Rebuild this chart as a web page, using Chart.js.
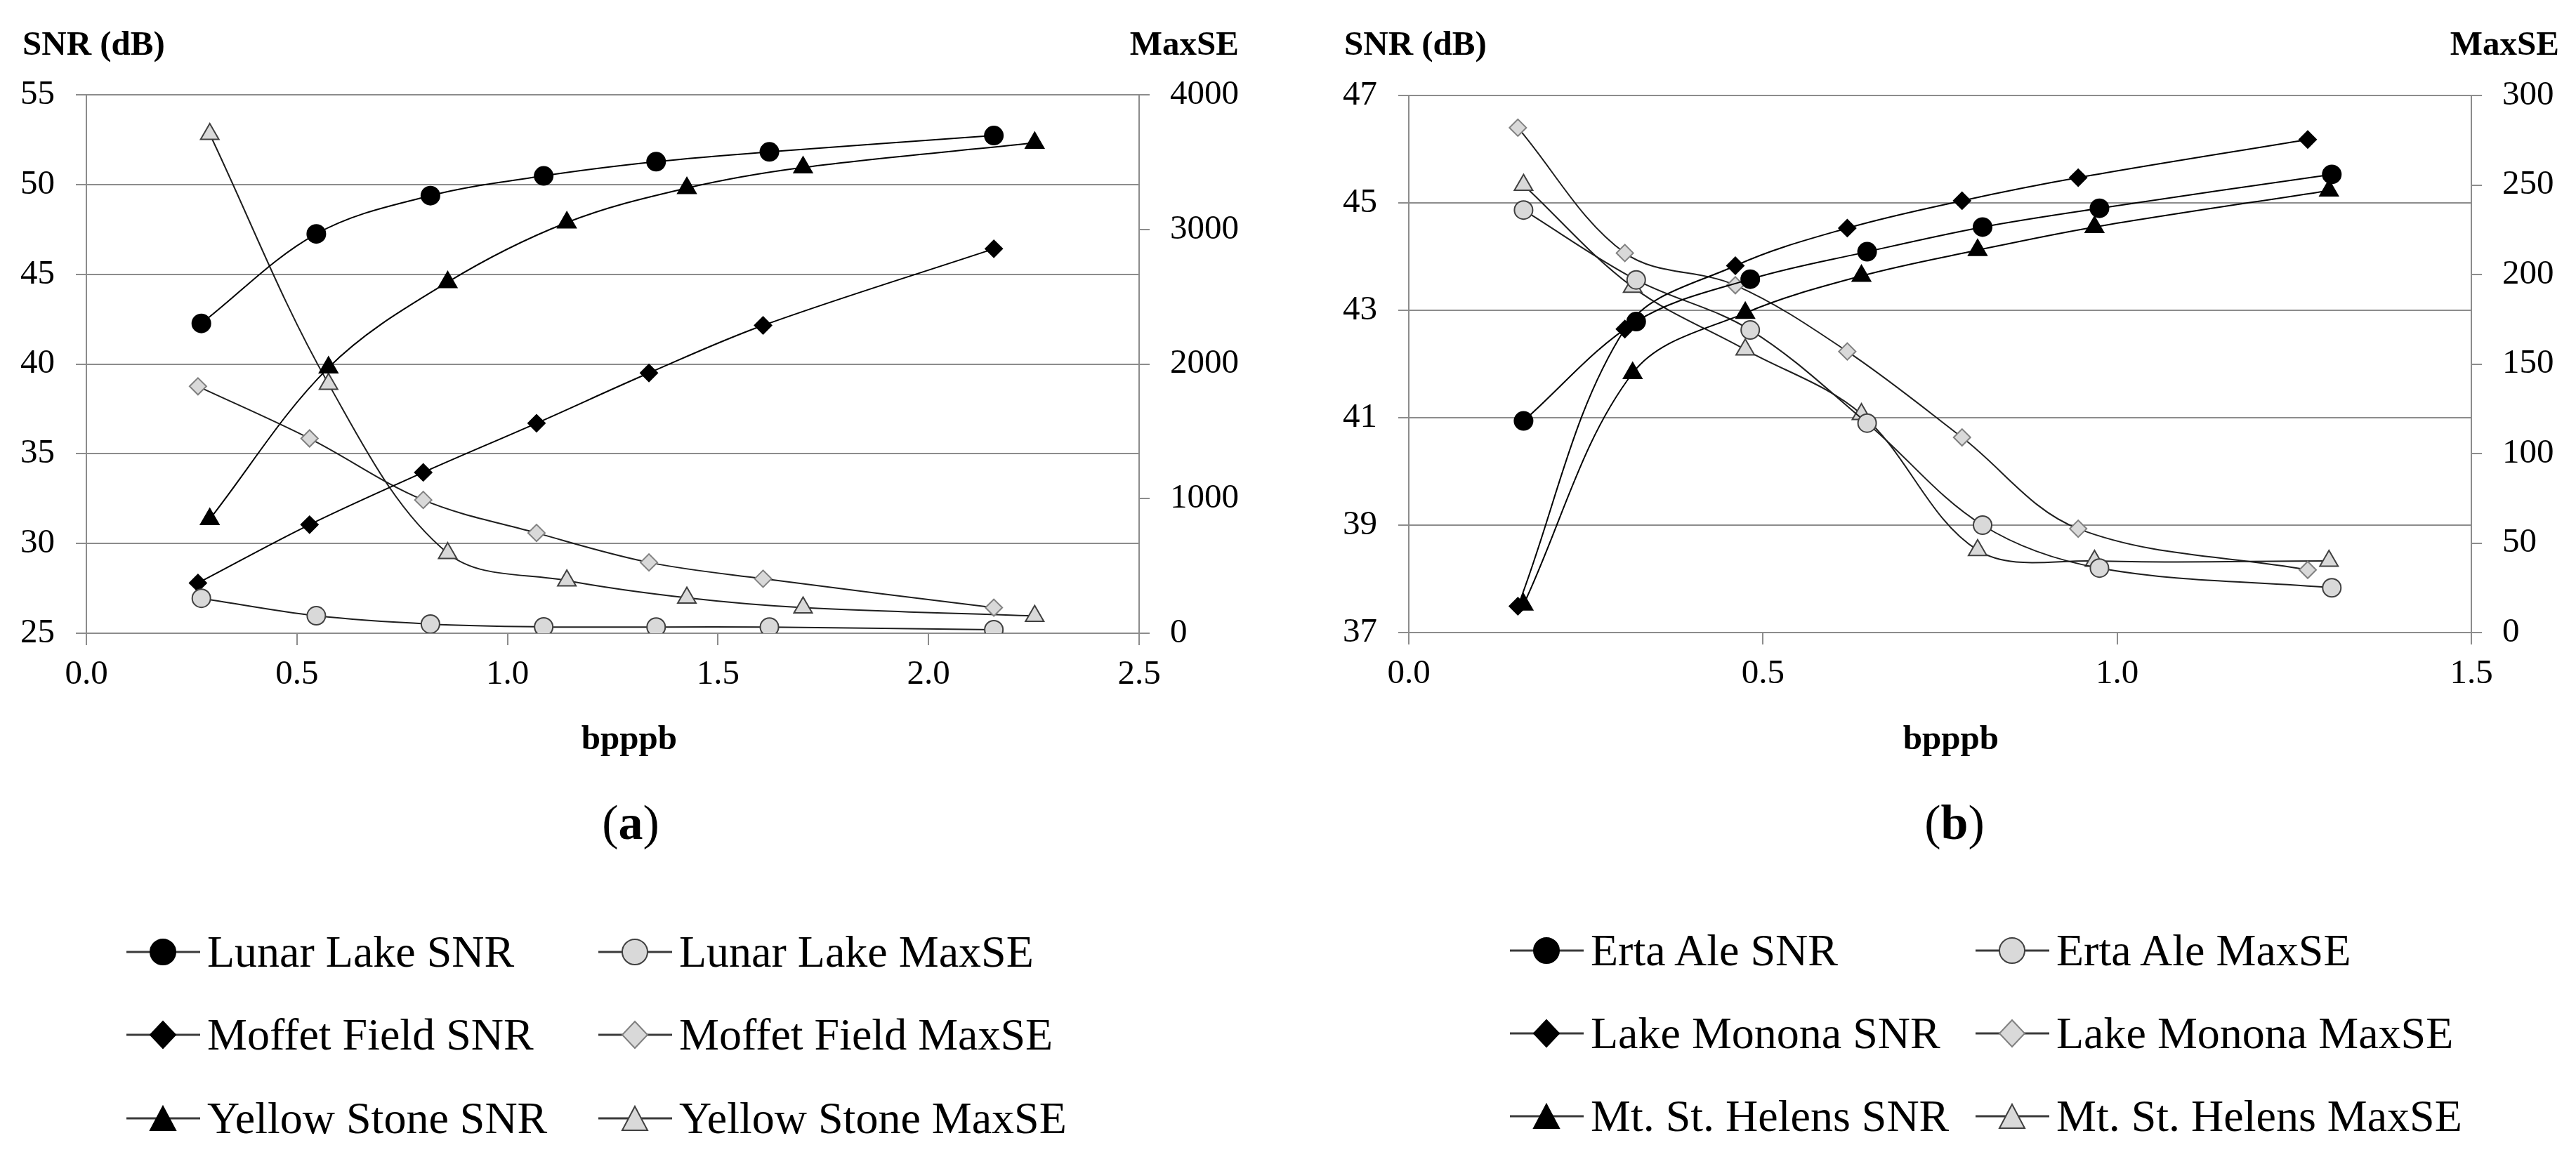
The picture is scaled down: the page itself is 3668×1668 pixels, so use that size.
<!DOCTYPE html>
<html>
<head>
<meta charset="utf-8">
<script src="https://cdn.jsdelivr.net/npm/chart.js@4.4.1/dist/chart.umd.min.js"></script>
<style>
  html, body { margin: 0; padding: 0; background: #fff; }
  #page { position: relative; width: 3668px; height: 1668px; background: #fff; overflow: hidden;
          font-family: 'Liberation Serif', 'Times New Roman', serif; color: #000; }
  canvas { position: absolute; top: 0; }
  .t { position: absolute; white-space: nowrap; font-size: 49px; line-height: 49px; font-weight: bold; }
  .cap { position: absolute; white-space: nowrap; font-size: 70px; line-height: 70px; transform: translateX(-50%); }
  .cap b { font-weight: bold; }
  .leg { position: absolute; display: flex; align-items: center; height: 64px; font-size: 64px; line-height: 64px; white-space: nowrap; }
  .leg svg { flex: none; margin-right: 10px; }
</style>
</head>
<body>
<div id="page">
  <canvas id="chartA" width="1834" height="1100" style="left:0px"></canvas>
  <canvas id="chartB" width="1834" height="1100" style="left:1834px"></canvas>

  <div class="t" style="left:32px; top:37px;">SNR (dB)</div>
  <div class="t" style="right:1904px; top:37px;">MaxSE</div>
  <div class="t" style="left:1914px; top:37px;">SNR (dB)</div>
  <div class="t" style="right:24px; top:37px;">MaxSE</div>

  <div class="t" style="left:896px; top:1026px; transform:translateX(-50%);">bpppb</div>
  <div class="t" style="left:2778px; top:1026px; transform:translateX(-50%);">bpppb</div>

  <div class="cap" style="left:898px; top:1137px;">(<b>a</b>)</div>
  <div class="cap" style="left:2783px; top:1137px;">(<b>b</b>)</div>

  <div id="legendA"></div>
  <div id="legendB"></div>
</div>

<script>
// ---------------- DATA: panel (a) ----------------
const lunarX      = [0.273, 0.546, 0.817, 1.086, 1.353, 1.622, 2.155];
const lunarSNR    = [42.26, 47.25, 49.38, 50.48, 51.27, 51.82, 52.73];
const lunarMaxSE  = [260, 130, 68, 47, 46, 46, 26];

const moffetX     = [0.265, 0.530, 0.800, 1.069, 1.336, 1.607, 2.155];
const moffetSNR   = [27.8, 31.05, 33.96, 36.7, 39.5, 42.15, 46.42];
const moffetMaxSE = [1834, 1447, 990, 745, 526, 405, 190];

const yellowX     = [0.293, 0.575, 0.858, 1.141, 1.426, 1.702, 2.252];
const yellowSNR   = [31.36, 39.8, 44.56, 47.88, 49.8, 50.95, 52.32];
const yellowMaxSE = [3708, 1852, 595, 391, 263, 190, 128];

// ---------------- DATA: panel (b) ----------------
const ertaX       = [0.162, 0.321, 0.482, 0.647, 0.810, 0.975, 1.303];
const ertaSNR     = [40.94, 42.79, 43.58, 44.09, 44.55, 44.90, 45.53];
const ertaMaxSE   = [236, 197, 169, 117, 60, 36, 25];

const mononaX     = [0.154, 0.305, 0.461, 0.619, 0.781, 0.945, 1.269];
const mononaSNR   = [37.49, 42.65, 43.83, 44.53, 45.04, 45.47, 46.18];
const mononaMaxSE = [282, 212, 194, 157, 109, 58, 35];

const helensX     = [0.162, 0.316, 0.475, 0.639, 0.803, 0.968, 1.299];
const helensSNR   = [37.52, 41.83, 42.95, 43.64, 44.12, 44.55, 45.23];
const helensMaxSE = [250, 193, 158, 122, 46, 40, 40];

// ---------------- AXIS RANGES / TICKS ----------------
const axisA = { xMin: 0, xMax: 2.5, xStep: 0.5, yMin: 25, yMax: 55, yStep: 5, y1Min: 0, y1Max: 4000, y1Step: 1000 };
const axisB = { xMin: 0, xMax: 1.5, xStep: 0.5, yMin: 37, yMax: 47, yStep: 2, y1Min: 0, y1Max: 300, y1Step: 50 };

// ---------------- STYLES ----------------
const FONT = "'Liberation Serif', 'Times New Roman', serif";
const GRID = '#8c8c8c';
const GRAY_FILL = '#d9d9d9';

const shapeInfo = {
  circle:   { style: 'circle',   radius: 13 },
  diamond:  { style: 'rectRot',  radius: 12 },
  triangle: { style: 'triangle', radius: 15 }
};

function series(label, xs, ys, axis, shape, filled) {
  const s = shapeInfo[shape];
  const edge = filled ? '#000' : (shape === 'diamond' ? '#808080' : '#404040');
  return {
    label,
    shape, filled,
    data: xs.map((x, i) => ({ x: x, y: ys[i] })),
    yAxisID: axis,
    borderColor: filled ? '#000' : '#1e1e1e',
    borderWidth: 2,
    backgroundColor: filled ? '#000' : GRAY_FILL,
    pointStyle: s.style,
    pointRadius: s.radius,
    pointHoverRadius: s.radius,
    pointBackgroundColor: filled ? '#000' : GRAY_FILL,
    pointBorderColor: edge,
    pointBorderWidth: 2,
    tension: 0.35,
    fill: false
  };
}

function makeChart(id, axis, datasets, dims) {
  return new Chart(document.getElementById(id), {
    type: 'line',
    data: { datasets },
    options: {
      responsive: false,
      animation: false,
      devicePixelRatio: 1,
      layout: { padding: { top: dims.top, bottom: 0, left: 0, right: 0 } },
      plugins: { legend: { display: false }, tooltip: { enabled: false }, title: { display: false } },
      scales: {
        x: {
          type: 'linear', min: axis.xMin, max: axis.xMax,
          ticks: { stepSize: axis.xStep, color: '#000', padding: 13,
                   font: { family: FONT, size: 49 }, callback: v => Number(v).toFixed(1) },
          grid: { display: true, drawOnChartArea: false, drawTicks: true, tickLength: 17, color: GRID, lineWidth: 2 },
          border: { display: true, color: GRID, width: 2 },
          afterFit: s => { s.height = 1100 - dims.bottom; }
        },
        y: {
          type: 'linear', position: 'left', min: axis.yMin, max: axis.yMax,
          ticks: { stepSize: axis.yStep, color: '#000', padding: 30, font: { family: FONT, size: 49 },
                   callback: v => String(v) },
          grid: { color: GRID, lineWidth: 2, tickLength: 15, drawTicks: true },
          border: { display: true, color: GRID, width: 2 },
          afterFit: s => { s.width = dims.left; }
        },
        y1: {
          type: 'linear', position: 'right', min: axis.y1Min, max: axis.y1Max,
          ticks: { stepSize: axis.y1Step, color: '#000', padding: 29, font: { family: FONT, size: 49 },
                   callback: v => String(v) },
          grid: { drawOnChartArea: false, color: GRID, lineWidth: 2, tickLength: 15, drawTicks: true },
          border: { display: true, color: GRID, width: 2 },
          afterFit: s => { s.width = 1834 - dims.right; }
        }
      }
    }
  });
}

const dsA = [
  series('Lunar Lake SNR', lunarX, lunarSNR, 'y', 'circle', true),
  series('Lunar Lake MaxSE', lunarX, lunarMaxSE, 'y1', 'circle', false),
  series('Moffet Field SNR', moffetX, moffetSNR, 'y', 'diamond', true),
  series('Moffet Field MaxSE', moffetX, moffetMaxSE, 'y1', 'diamond', false),
  series('Yellow Stone SNR', yellowX, yellowSNR, 'y', 'triangle', true),
  series('Yellow Stone MaxSE', yellowX, yellowMaxSE, 'y1', 'triangle', false)
];
const dsB = [
  series('Erta Ale SNR', ertaX, ertaSNR, 'y', 'circle', true),
  series('Erta Ale MaxSE', ertaX, ertaMaxSE, 'y1', 'circle', false),
  series('Lake Monona SNR', mononaX, mononaSNR, 'y', 'diamond', true),
  series('Lake Monona MaxSE', mononaX, mononaMaxSE, 'y1', 'diamond', false),
  series('Mt. St. Helens SNR', helensX, helensSNR, 'y', 'triangle', true),
  series('Mt. St. Helens MaxSE', helensX, helensMaxSE, 'y1', 'triangle', false)
];

// ---------------- HTML LEGENDS (built from the chart datasets) ----------------
function markerSVG(ds) {
  const fill = ds.pointBackgroundColor, stroke = ds.pointBorderColor;
  const line = '<line x1="0" y1="32" x2="105" y2="32" stroke="#3a3a3a" stroke-width="3"/>';
  let m = '';
  if (ds.shape === 'circle') {
    m = `<circle cx="52" cy="32" r="18" fill="${fill}" stroke="${stroke}" stroke-width="2"/>`;
  } else if (ds.shape === 'diamond') {
    m = `<polygon points="52,13 70,32 52,51 34,32" fill="${fill}" stroke="${stroke}" stroke-width="2"/>`;
  } else {
    m = `<polygon points="52,15 70,49 34,49" fill="${fill}" stroke="${stroke}" stroke-width="2"/>`;
  }
  return `<svg width="105" height="64" viewBox="0 0 105 64">${line}${m}</svg>`;
}

function buildLegend(containerId, chart, cols, rows) {
  const host = document.getElementById(containerId);
  chart.data.datasets.forEach((ds, i) => {
    const r = Math.floor(i / 2), c = i % 2;
    const d = document.createElement('div');
    d.className = 'leg';
    d.style.left = cols[c] + 'px';
    d.style.top = (rows[r] - 32) + 'px';
    d.innerHTML = markerSVG(ds) + '<span>' + ds.label + '</span>';
    host.appendChild(d);
  });
}

function drawAll() {
  const chartA = makeChart('chartA', axisA, dsA, { left: 123, right: 1622, top: 135, bottom: 902 });
  const chartB = makeChart('chartB', axisB, dsB, { left: 172, right: 1685, top: 136, bottom: 901 });
  buildLegend('legendA', chartA, [180, 852], [1356, 1474, 1593]);
  buildLegend('legendB', chartB, [2150, 2813], [1354, 1472, 1590]);
}

Promise.all([
  document.fonts.load("49px 'Liberation Serif'"),
  document.fonts.load("bold 49px 'Liberation Serif'")
]).then(drawAll, drawAll);
</script>
</body>
</html>
